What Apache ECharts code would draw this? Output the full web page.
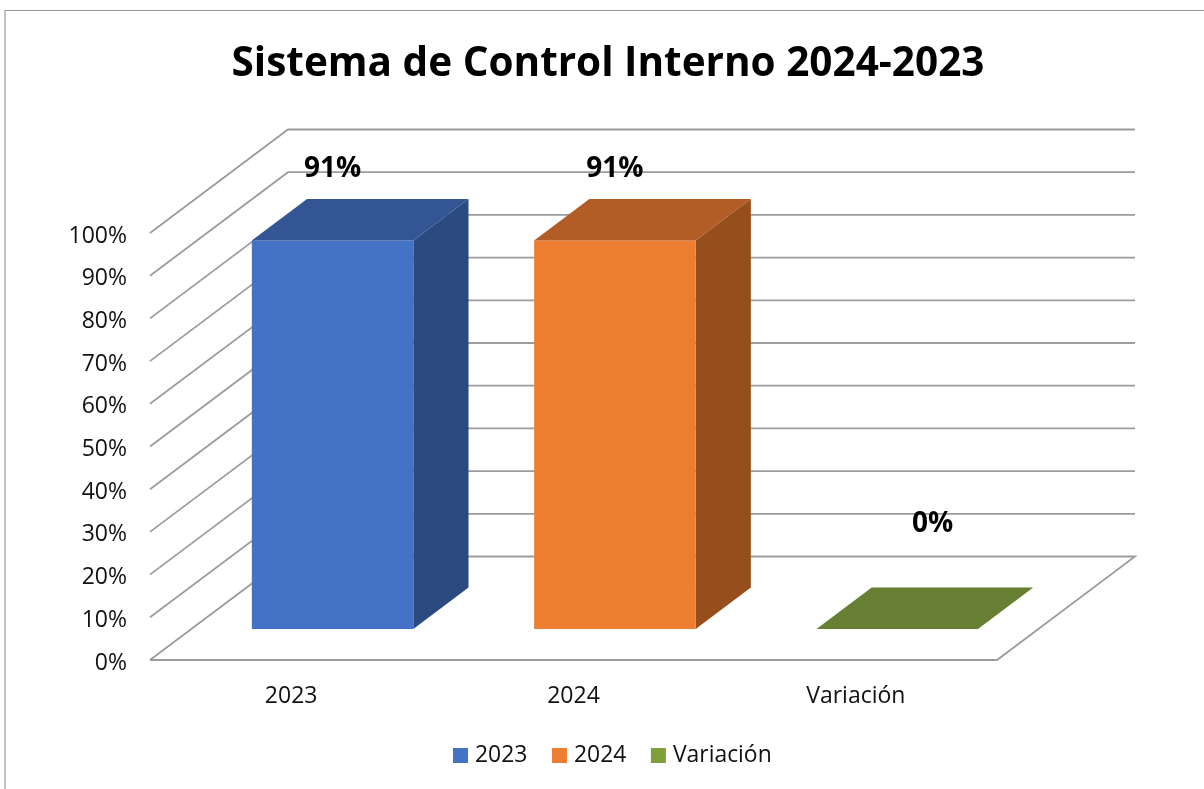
<!DOCTYPE html>
<html>
<head>
<meta charset="utf-8">
<style>html,body{margin:0;padding:0;background:#fff}#c{width:1204px;height:789px}</style>
<script src="https://cdn.jsdelivr.net/npm/echarts@6/dist/echarts.min.js"></script>
</head>
<body>
<div id="c"></div>
<script>
var titleText = 'Sistema de Control Interno 2024-2023';
var categories = ['2023', '2024', 'Variación'];
var values = [0.91, 0.91, 0];
var wallTicks = [0, 0.1, 0.2, 0.3, 0.4, 0.5, 0.6, 0.7, 0.8, 0.9, 1];
var frontColors = ['#4472C4', '#ED7D31', '#7F9F3D'];
var topColors = ['#335593', '#B25D25', '#667F33'];
var sideColors = ['#2A4A80', '#964F1C', '#566B2B'];

var FONT = '"Open Sans", "Noto Sans", sans-serif';
var LINE = '#9C9C9C';
var LINE_W = 1.8;
// depth of the 3D box, as fractions of the plot's size
var DEPTH_X = 138 / 847, DEPTH_Y = 103.5 / 427;
var BAR_NEAR = 0.3, BAR_DEEP = 0.4, BAR_WIDTH = 0.572;

var chart = echarts.init(document.getElementById('c'), null, {renderer: 'canvas'});

function depthVec(api) {
  var w = api.size([1, 0])[0] * categories.length, h = api.size([0, 1])[1];
  return [w * DEPTH_X, -h * DEPTH_Y];
}

function renderWall(params, api) {
  var v = api.value(1);
  var d = depthVec(api);
  var left = api.coord([0, v]);
  var bandW = api.size([1, 0])[0];
  var plotW = bandW * categories.length;
  var x0 = left[0] - bandW / 2, y0 = left[1];
  var lineStyle = {stroke: LINE, lineWidth: LINE_W, fill: null};
  var pts = [[x0, y0], [x0 + d[0], y0 + d[1]], [x0 + d[0] + plotW, y0 + d[1]]];
  if (v === 0) pts.push([x0 + plotW, y0], [x0, y0]);
  return {type: 'polyline', shape: {points: pts}, style: lineStyle, silent: true};
}

function renderBar(params, api) {
  var i = api.value(0), v = api.value(1);
  var d = depthVec(api);
  var base = api.coord([i, 0]), top = api.coord([i, v]);
  var bw = api.size([1, 0])[0] * BAR_WIDTH;
  var nx = d[0] * BAR_NEAR, ny = d[1] * BAR_NEAR;
  var dx = d[0] * BAR_DEEP, dy = d[1] * BAR_DEEP;
  var x1 = base[0] + nx - bw / 2, x2 = base[0] + nx + bw / 2;
  var yb = base[1] + ny, yt = top[1] + ny;
  var kids = [];
  if (v > 0) {
    kids.push({type: 'polygon', shape: {points: [[x2, yt], [x2 + dx, yt + dy], [x2 + dx, yb + dy], [x2, yb]]}, style: {fill: sideColors[i]}});
    kids.push({type: 'rect', shape: {x: x1, y: yt, width: bw, height: yb - yt}, style: {fill: frontColors[i]}});
  }
  kids.push({type: 'polygon', shape: {points: [[x1, yt], [x2, yt], [x2 + dx, yt + dy], [x1 + dx, yt + dy]]}, style: {fill: topColors[i]}});
  // Excel floats the label above the box: further out for the empty column
  var lx = (x1 + x2) / 2 + (v > 0 ? 0 : dx * 0.64);
  var ly = yt + (v > 0 ? dy * 1.72 : dy * 2.53);
  kids.push({type: 'text', style: {x: lx, y: ly, text: Math.round(v * 100) + '%', fill: '#000', font: 'bold 28px ' + FONT, align: 'center', verticalAlign: 'middle'}, z2: 10});
  return {type: 'group', children: kids};
}

var barSeries = categories.map(function (name, i) {
  return {
    name: name, type: 'custom', renderItem: renderBar, z: 5,
    itemStyle: {color: frontColors[i]},
    encode: {x: 0, y: 1},
    data: [[i, values[i]]]
  };
});

chart.setOption({
  animation: false,
  backgroundColor: '#fff',
  title: {
    text: titleText, left: 603, top: 39, textAlign: 'center',
    textStyle: {fontFamily: FONT, fontWeight: 'bold', fontSize: 40.5, color: '#000'}
  },
  legend: {
    data: categories, left: 448, top: 739, itemWidth: 15, itemHeight: 15, itemGap: 24.6,
    icon: 'rect',
    textStyle: {fontFamily: FONT, fontSize: 22.9, color: '#111', padding: [0, 0, 0, 2]}
  },
  grid: {left: 150, top: 233, width: 847, height: 427, containLabel: false},
  xAxis: {
    type: 'category', data: categories,
    axisLine: {show: false}, axisTick: {show: false}, splitLine: {show: false},
    axisLabel: {fontFamily: FONT, fontSize: 23, color: '#111', margin: 25}
  },
  yAxis: {
    type: 'value', min: 0, max: 1, interval: 0.1,
    axisLine: {show: false}, axisTick: {show: false}, splitLine: {show: false},
    axisLabel: {
      fontFamily: FONT, fontSize: 23, color: '#111', margin: 23,
      verticalAlign: 'top', lineHeight: 6,
      formatter: function (v) { return Math.round(v * 100) + '%'; }
    }
  },
  graphic: [{
    type: 'polyline', silent: true,
    shape: {points: [[5, 789], [5, 10.5], [1204, 10.5]]},
    style: {stroke: '#9A9A9A', lineWidth: 1.2, fill: null}
  }],
  series: [{
    name: 'walls', type: 'custom', renderItem: renderWall, z: 1, silent: true,
    encode: {x: 0, y: 1},
    data: wallTicks.map(function (t) { return [0, t]; })
  }].concat(barSeries)
});
</script>
</body>
</html>
